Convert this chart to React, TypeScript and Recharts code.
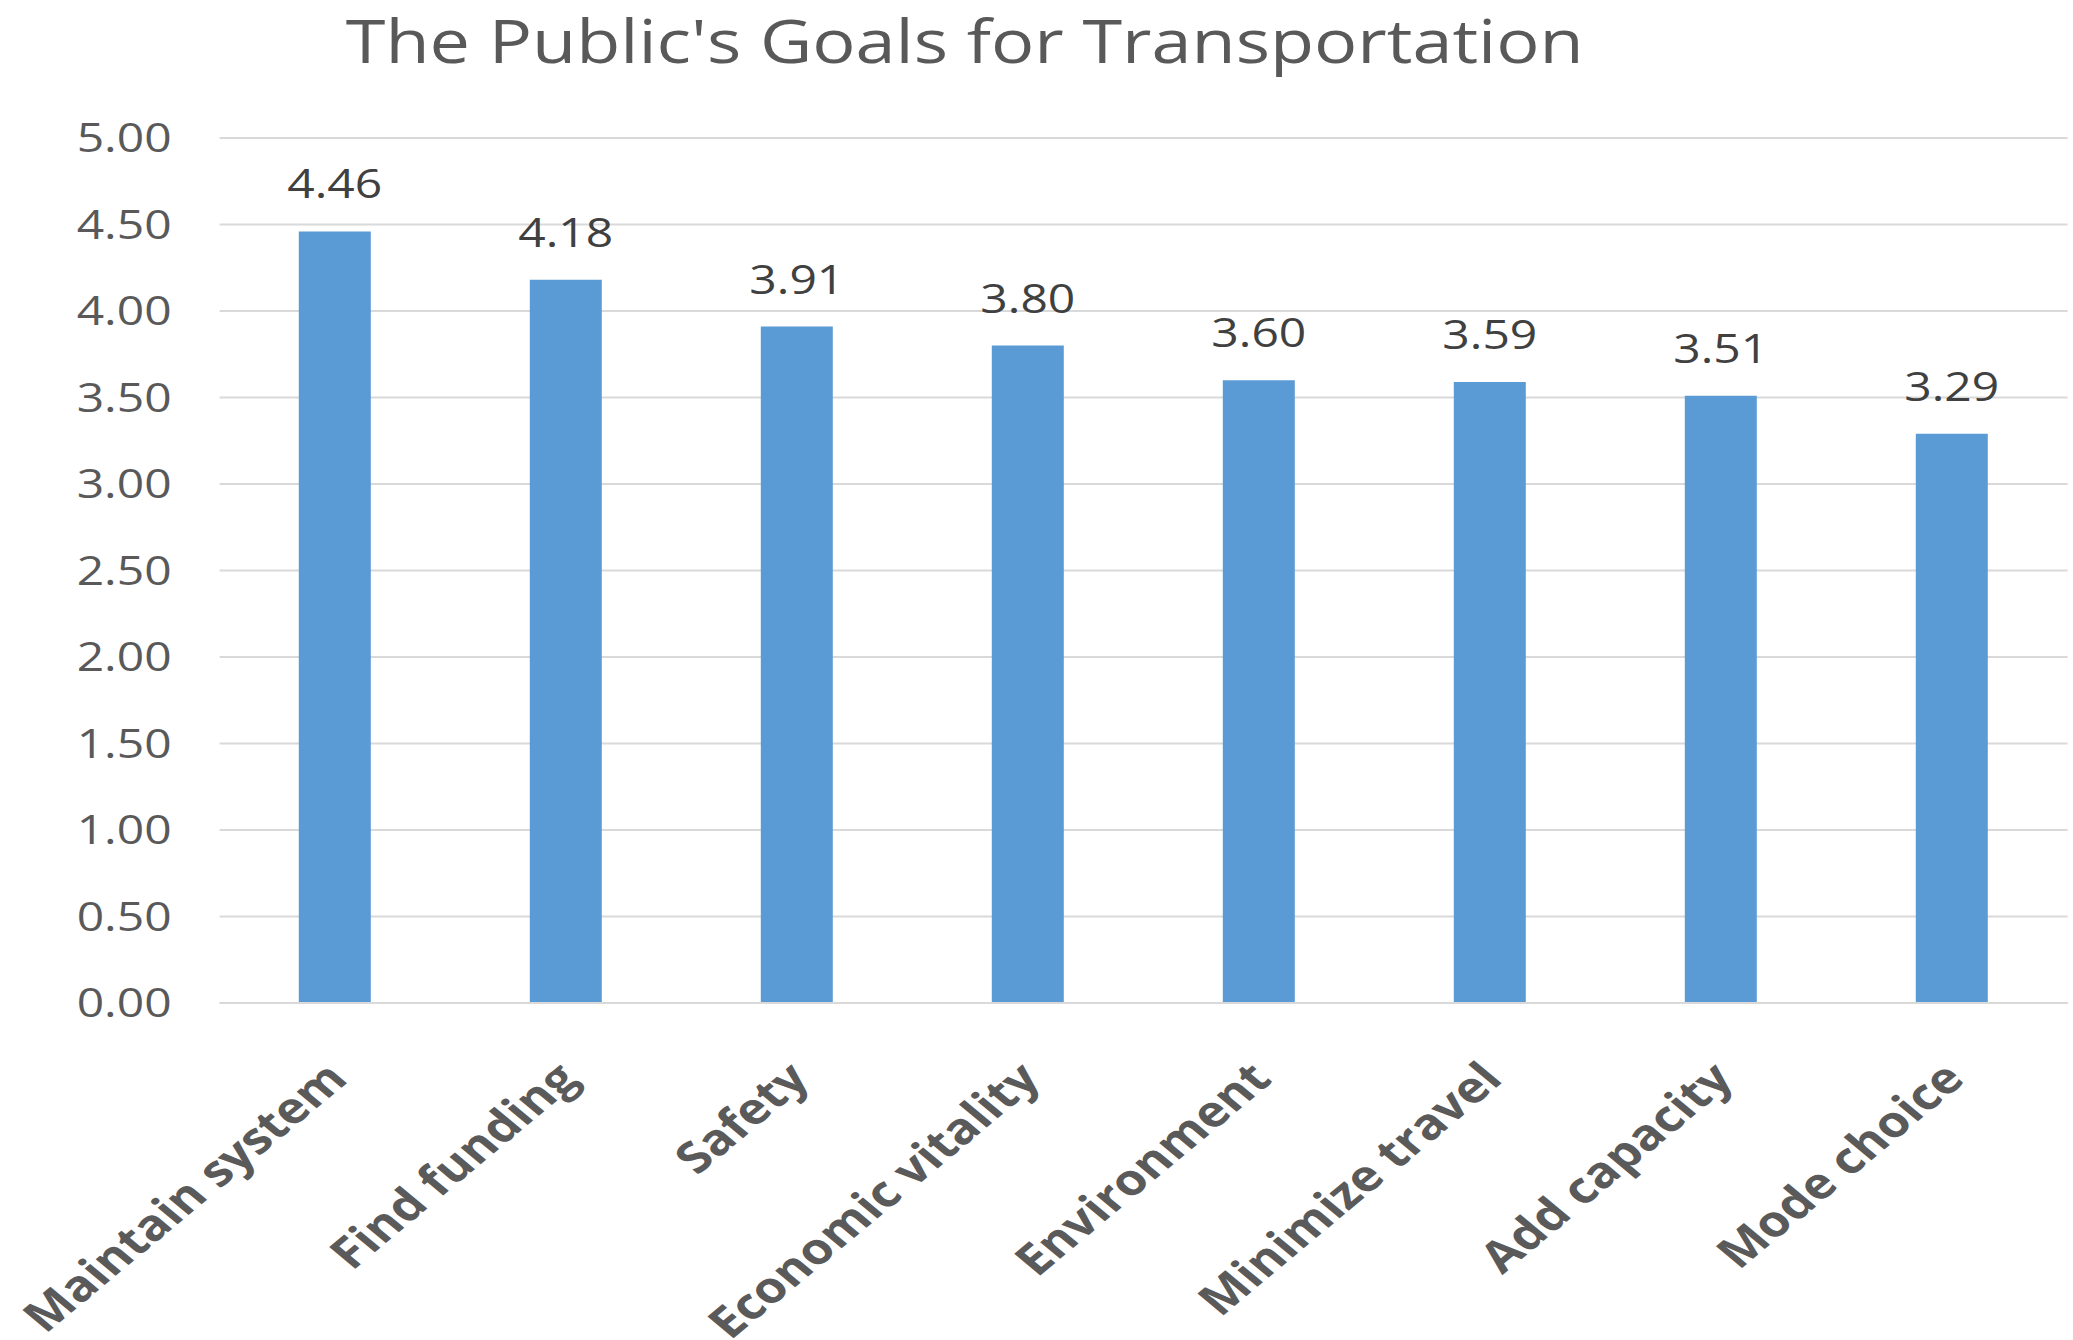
import React from 'react';
import { BarChart, Bar, XAxis, YAxis, CartesianGrid, LabelList } from 'recharts';

const goals = [
    'Maintain system',
    'Find funding',
    'Safety',
    'Economic vitality',
    'Environment',
    'Minimize travel',
    'Add capacity',
    'Mode choice',
];
const scores = [4.46, 4.18, 3.91, 3.8, 3.6, 3.59, 3.51, 3.29];
const yTicks = [0, 0.5, 1, 1.5, 2, 2.5, 3, 3.5, 4, 4.5, 5];

const data = goals.map((goal, i) => ({ goal, score: scores[i] }));

// the source picture is stretched sideways, so the chart is drawn narrow and scaled
const STRETCH = 1.2;
const W = 1727;
const H = 1340;

const GoalTick = (props: any) => {
    const { x, y, payload } = props;
    return (
        <g transform={`translate(${x + 12},${y + 70})`}>
            <text
                textAnchor="end"
                transform="rotate(-45)"
                fill="#5a5a5a"
                fontSize={43}
                fontWeight={700}
            >
                {payload.value}
            </text>
        </g>
    );
};

const App: React.FC = () => {
    return (
        <div style={{ width: 2073, height: H, overflow: 'hidden' }}>
            <style>{'body{margin:0;overflow:hidden}'}</style>
            <div
                style={{
                    position: 'relative',
                    width: W,
                    height: H,
                    transform: `scaleX(${STRETCH})`,
                    transformOrigin: '0 0',
                    fontFamily: '"Open Sans", sans-serif',
                    background: '#fff',
                }}
            >
                <div
                    style={{
                        position: 'absolute',
                        left: 0,
                        width: 1608,
                        top: -2,
                        textAlign: 'center',
                        fontSize: 60,
                        lineHeight: '84px',
                        color: '#595959',
                    }}
                >
                    The Public's Goals for Transportation
                </div>
                <BarChart
                    width={W}
                    height={H}
                    data={data}
                    margin={{ top: 138, right: 4, left: 0, bottom: 0 }}
                >
                    <CartesianGrid vertical={false} stroke="#d9d9d9" strokeWidth={2} />
                    <XAxis
                        dataKey="goal"
                        interval={0}
                        height={337}
                        axisLine={{ stroke: '#d9d9d9', strokeWidth: 2 }}
                        tickLine={false}
                        tick={<GoalTick />}
                    />
                    <YAxis
                        width={183}
                        domain={[0, 5]}
                        ticks={yTicks}
                        axisLine={false}
                        tickLine={false}
                        tickMargin={34}
                        tickFormatter={(v: number) => v.toFixed(2)}
                        tick={{ fontSize: 40, fill: '#595959' }}
                    />
                    <Bar dataKey="score" fill="#5b9bd5" barSize={60} isAnimationActive={false}>
                        <LabelList
                            dataKey="score"
                            position="top"
                            offset={33}
                            fontSize={40}
                            fill="#404040"
                            formatter={(v: any) => Number(v).toFixed(2)}
                        />
                    </Bar>
                </BarChart>
            </div>
        </div>
    );
};

export default App;
